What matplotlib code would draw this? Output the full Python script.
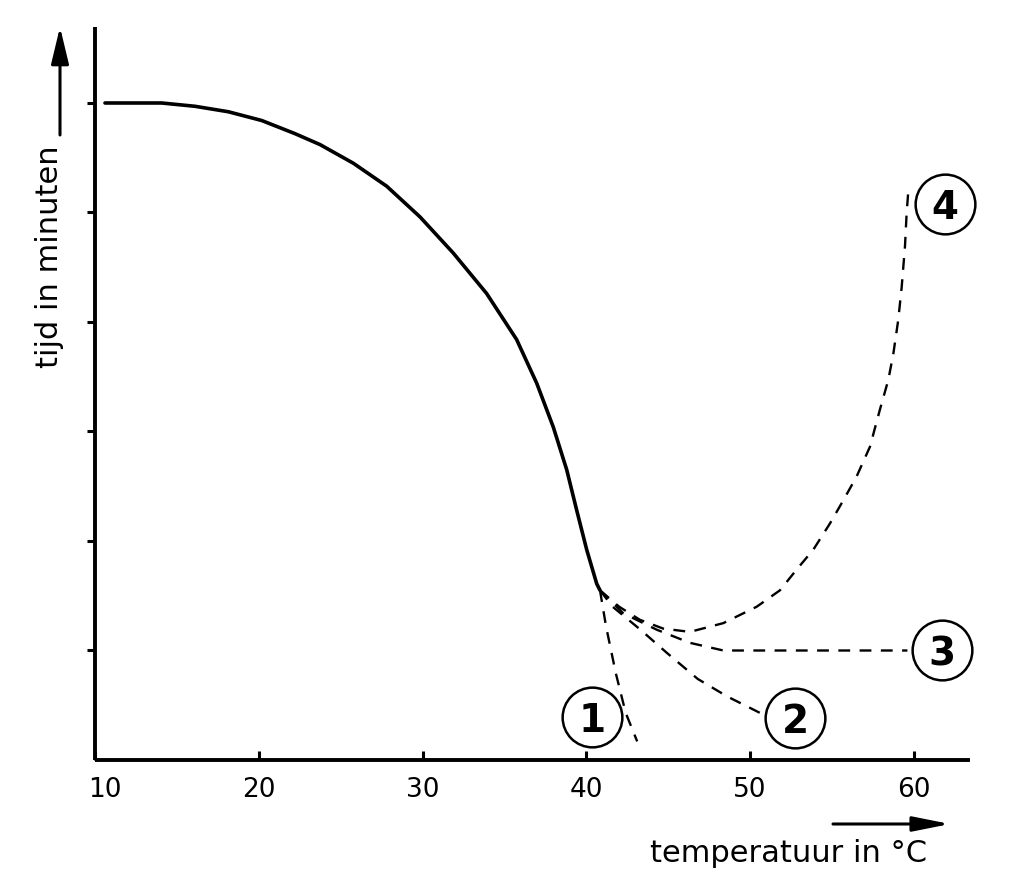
import matplotlib
matplotlib.use('Agg')
import matplotlib.pyplot as plt
from matplotlib.patches import FancyArrowPatch
from matplotlib.transforms import ScaledTranslation

plt.rcParams['font.family'] = ['DejaVu Sans']

# ---- data ----
temp_main = [10.61, 12.03, 14.07, 16.10, 18.14, 20.18, 22.21, 23.74, 25.77,
             27.81, 29.84, 31.87, 33.91, 35.74, 36.97, 37.98, 38.80, 39.41,
             40.02, 40.63, 40.83]
tijd_main = [6.00, 6.00, 6.00, 5.97, 5.92, 5.84, 5.72, 5.62, 5.45,
             5.24, 4.96, 4.63, 4.26, 3.84, 3.44, 3.04, 2.65, 2.28,
             1.92, 1.61, 1.55]

temp_1 = [40.83, 41.2, 41.8, 42.4, 43.1]
tijd_1 = [1.55, 1.22, 0.79, 0.43, 0.17]

temp_2 = [40.83, 41.6, 43.3, 44.9, 46.8, 48.6, 50.6]
tijd_2 = [1.55, 1.40, 1.19, 0.98, 0.74, 0.58, 0.43]

temp_3 = [40.83, 42.25, 44.29, 46.32, 48.36, 59.6]
tijd_3 = [1.55, 1.34, 1.19, 1.07, 1.00, 1.00]

temp_4 = [40.83, 42.0, 43.27, 44.69, 46.32, 48.36, 50.40, 51.82, 52.84, 53.85,
          54.87, 55.68, 56.50, 57.31, 57.92, 58.43, 58.74, 59.04, 59.25,
          59.45, 59.55, 59.65]
tijd_4 = [1.55, 1.40, 1.28, 1.20, 1.17, 1.25, 1.40, 1.55, 1.74, 1.92,
          2.16, 2.37, 2.59, 2.86, 3.20, 3.47, 3.71, 4.02, 4.32,
          4.69, 4.99, 5.19]

x_ticks = [10, 20, 30, 40, 50, 60]
x_tick_labels = ['10', '20', '30', '40', '50', '60']
y_ticks = [1, 2, 3, 4, 5, 6]

curve_names = ['1', '2', '3', '4']
name_x = [40.32, 52.74, 61.69, 61.89]
name_y = [0.395, 0.38, 1.0, 5.08]

x_label = 'temperatuur in °C'
y_label = 'tijd in minuten'

# ---- figure ----
W, H = 1027, 896
fig = plt.figure(figsize=(W / 100, H / 100), dpi=100)
ax = fig.add_axes([95 / W, 136 / H, 875 / W, 733 / H])
ax.set_xlim(10, 63.42)
ax.set_ylim(0, 6.694)

ax.spines[['top', 'right']].set_visible(False)
for s in ['left', 'bottom']:
    ax.spines[s].set_linewidth(2.8)
    ax.spines[s].set_capstyle('butt')

ax.set_xticks(x_ticks, x_tick_labels)
ax.set_yticks(y_ticks, [])
ax.tick_params(axis='x', direction='in', length=6.5, width=2.2, pad=12,
               labelsize=19)
ax.tick_params(axis='y', direction='out', length=6, width=2.2)
lab0 = ax.get_xticklabels()[0]
lab0.set_transform(lab0.get_transform() +
                   ScaledTranslation(10 / 100, 0, fig.dpi_scale_trans))

ax.plot(temp_main, tijd_main, color='black', lw=2.6,
        solid_capstyle='round', solid_joinstyle='round')

for xs, ys in [(temp_1, tijd_1), (temp_2, tijd_2), (temp_3, tijd_3),
               (temp_4, tijd_4)]:
    ax.plot(xs, ys, color='black', lw=1.7, dashes=(5, 4))

ax.plot(name_x, name_y, 'o', ms=43, mfc='white', mec='black', mew=1.8,
        ls='none', clip_on=False, zorder=4)
for t, x, y in zip(curve_names, name_x, name_y):
    ax.text(x, y, t, ha='center', va='center_baseline', fontsize=28,
            fontweight='bold', zorder=5)

# axis labels with arrows
fig.text(58 / W, (H - 368) / H, y_label, rotation=90, rotation_mode='anchor',
         ha='left', va='baseline', fontsize=22)
fig.add_artist(FancyArrowPatch((60 / W, (H - 135) / H), (60 / W, (H - 27) / H),
                               transform=fig.transFigure,
                               arrowstyle='-|>,head_length=0.75,head_width=0.18',
                               mutation_scale=30, lw=2.2, color='black',
                               shrinkA=0, shrinkB=0))

fig.text(650 / W, (H - 862) / H, x_label, ha='left', va='baseline',
         fontsize=22)
fig.add_artist(FancyArrowPatch((833 / W, (H - 824) / H), (950 / W, (H - 824) / H),
                               transform=fig.transFigure,
                               arrowstyle='-|>,head_length=0.75,head_width=0.15',
                               mutation_scale=30, lw=2.2, color='black',
                               shrinkA=0, shrinkB=0))

fig.savefig('out.png', dpi=100)
